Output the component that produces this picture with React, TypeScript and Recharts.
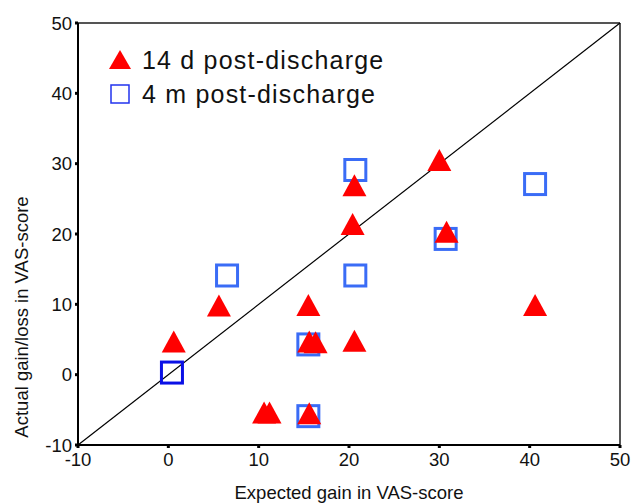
import React from "react";
import {
  ScatterChart,
  Scatter,
  XAxis,
  YAxis,
  ReferenceLine,
  Legend,
  Cell,
} from "recharts";

const xTicks = [-10, 0, 10, 20, 30, 40, 50];
const yTicks = [-10, 0, 10, 20, 30, 40, 50];

const series14dX = [0.6, 5.6, 10.6, 11.2, 15.5, 15.6, 16.3, 15.6, 20.4, 20.6, 20.6, 30.0, 30.8, 40.6];
const series14dY = [4.2, 9.3, -5.9, -5.9, 9.4, 4.2, 4.1, -6.0, 20.9, 26.4, 4.3, 30.0, 19.8, 9.4];

const series4mX = [0.4, 6.5, 15.5, 15.5, 20.7, 20.7, 30.7, 40.6];
const series4mY = [0.3, 14.1, 4.3, -5.9, 29.1, 14.1, 19.3, 27.1];

const data14d = series14dX.map((x, i) => ({ x, y: series14dY[i] }));
const data4m = series4mX.map((x, i) => ({ x, y: series4mY[i] }));

const RED = "#ff0000";
const BLUE = "#3a6cf6";
const DARKBLUE = "#0a10e6";
const FONT = "'Liberation Sans', Arial, sans-serif";

const Triangle = (props: any) => {
  const { cx, cy } = props;
  if (cx == null || cy == null) return null;
  const w = 24;
  const h = 22;
  const pts = `${cx},${cy - (2 * h) / 3} ${cx - w / 2},${cy + h / 3} ${cx + w / 2},${cy + h / 3}`;
  return <polygon points={pts} fill={RED} stroke="none" />;
};

const Square = (props: any) => {
  const { cx, cy, stroke } = props;
  if (cx == null || cy == null) return null;
  const s = 21;
  return (
    <rect
      x={cx - s / 2}
      y={cy - s / 2}
      width={s}
      height={s}
      fill="none"
      stroke={stroke || BLUE}
      strokeWidth={3}
    />
  );
};

const LegendContent = () => (
  <div style={{ fontFamily: FONT, fontSize: 25, color: "#111", lineHeight: "34px", whiteSpace: "nowrap" }}>
    <div style={{ display: "flex", alignItems: "center" }}>
      <svg width={24} height={22} style={{ marginRight: 10 }}>
        <polygon points="12,1 1,20 23,20" fill={RED} />
      </svg>
      <span style={{ letterSpacing: 1.2 }}>14 d post-discharge</span>
    </div>
    <div style={{ display: "flex", alignItems: "center" }}>
      <svg width={24} height={22} style={{ marginRight: 10 }}>
        <rect x={3} y={2} width={18} height={18} fill="none" stroke="#2233ee" strokeWidth={1.5} />
      </svg>
      <span style={{ letterSpacing: 1.2 }}>4 m post-discharge</span>
    </div>
  </div>
);

const YTitle = () => (
  <text
    x={21}
    y={317}
    transform="rotate(-90 21 317)"
    textAnchor="middle"
    dominantBaseline="central"
    fill="#111"
    fontSize={18.5}
    fontFamily={FONT}
  >
    Actual gain/loss in VAS-score
  </text>
);

export default function App() {
  return (
    <div style={{ position: "absolute", left: 0, top: 0, width: 632, height: 503, background: "#fff" }}>
      <ScatterChart
        width={632}
        height={503}
        margin={{ top: 23, right: 12, bottom: 28, left: 18 }}
      >
        <XAxis
          type="number"
          dataKey="x"
          domain={[-10, 50]}
          ticks={xTicks}
          interval={0}
          allowDataOverflow
          height={30}
          axisLine={{ stroke: "#000", strokeWidth: 2 }}
          tickLine={{ stroke: "#000", strokeWidth: 3 }}
          tickSize={3}
          tickMargin={5}
          tick={{ fill: "#111", fontSize: 18.5, fontFamily: FONT }}
          label={{
            value: "Expected gain in VAS-score",
            position: "insideBottom",
            offset: -24,
            fill: "#111",
            fontSize: 18.5,
            fontFamily: FONT,
          }}
        />
        <YAxis
          type="number"
          dataKey="y"
          domain={[-10, 50]}
          ticks={yTicks}
          interval={0}
          allowDataOverflow
          width={60}
          axisLine={{ stroke: "#000", strokeWidth: 2 }}
          tickLine={{ stroke: "#000", strokeWidth: 3 }}
          tickSize={3}
          tickMargin={3}
          tick={{ fill: "#111", fontSize: 18.5, fontFamily: FONT }}
          label={<YTitle />}
        />
        <ReferenceLine y={50} stroke="#555" strokeWidth={2} />
        <ReferenceLine x={50} stroke="#555" strokeWidth={2} />
        <ReferenceLine
          segment={[
            { x: -10, y: -10 },
            { x: 50, y: 50 },
          ]}
          stroke="#000"
          strokeWidth={1.2}
        />
        <Legend
          layout="vertical"
          verticalAlign="middle"
          align="center"
          content={<LegendContent />}
          wrapperStyle={{ position: "absolute", left: 108, top: 43, width: 320, height: 70 }}
        />
        <Scatter
          name="4 m post-discharge"
          data={data4m}
          shape={<Square />}
          isAnimationActive={false}
        >
          {data4m.map((d, i) => (
            <Cell key={i} stroke={d.x < 1 && d.y < 1 ? DARKBLUE : BLUE} />
          ))}
        </Scatter>
        <Scatter
          name="14 d post-discharge"
          data={data14d}
          shape={<Triangle />}
          isAnimationActive={false}
        />
      </ScatterChart>
    </div>
  );
}
